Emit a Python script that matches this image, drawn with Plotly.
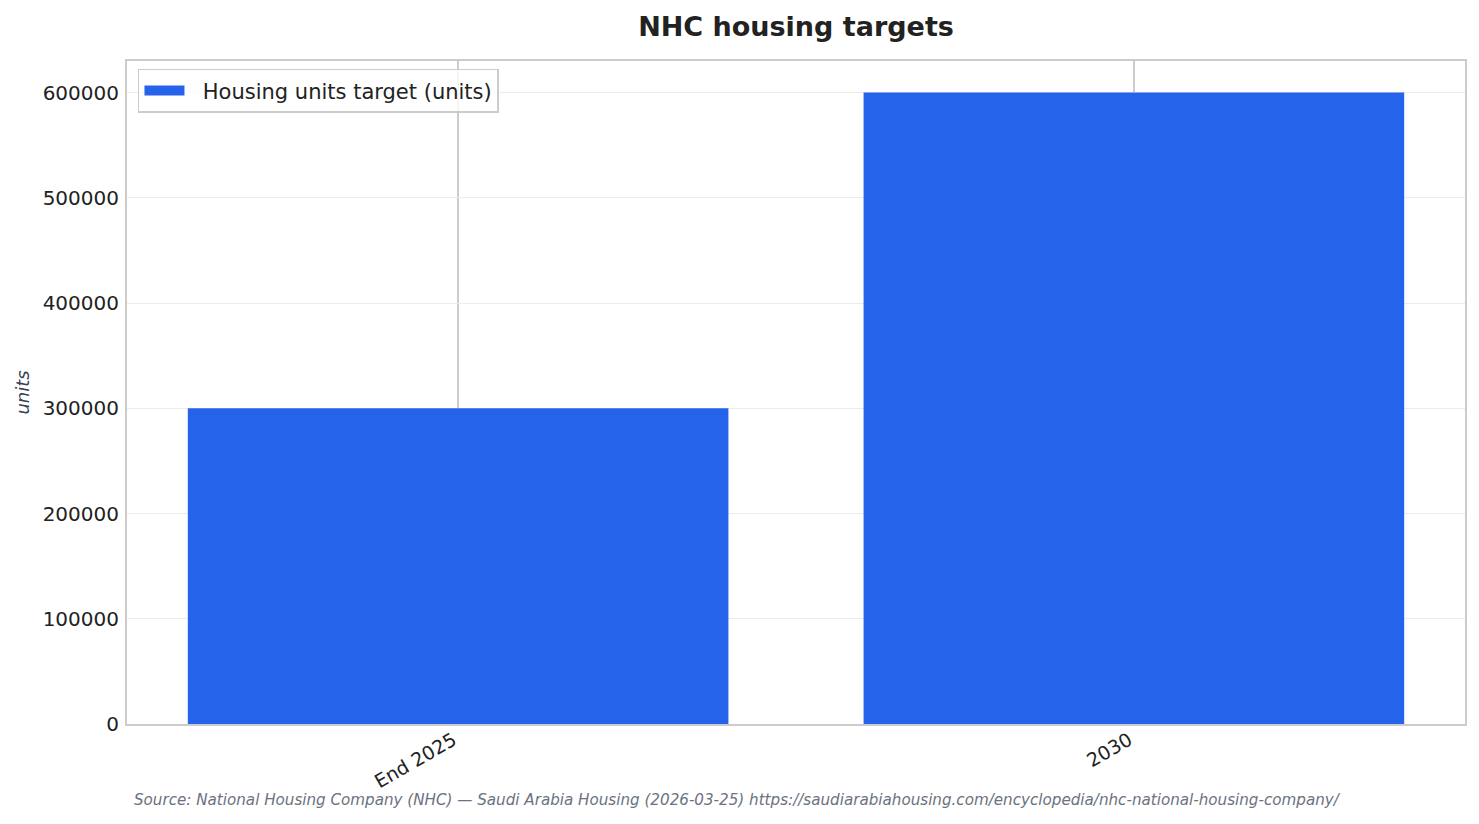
import plotly.graph_objects as go

categories = ["End 2025", "2030"]
housing_units = [300000, 600000]
y_ticks = [0, 100000, 200000, 300000, 400000, 500000, 600000]

series_name = "Housing units target (units)"
title_text = "NHC housing targets"
y_label = "units"
source_text = ("Source: National Housing Company (NHC) \u2014 Saudi Arabia Housing (2026-03-25) "
               "https://saudiarabiahousing.com/encyclopedia/nhc-national-housing-company/")

font_family = "DejaVu Sans"
bar_color = "#2563eb"

# page body has an 8px margin, so the figure is a bit smaller than the window
W, H = 1471, 816

fig = go.Figure()
fig.add_trace(go.Bar(
    x=list(range(len(categories))),
    y=housing_units,
    name=series_name,
    width=0.8,
    marker=dict(color=bar_color, line=dict(width=0)),
    showlegend=False,
))
# legend proxy: wide flat swatch like the reference
fig.add_trace(go.Scatter(
    x=[None], y=[None],
    mode="lines",
    name="\u00a0\u00a0" + series_name,
    line=dict(color=bar_color, width=13),
    showlegend=True,
    hoverinfo="skip",
))

fig.update_layout(
    width=W,
    height=H,
    paper_bgcolor="white",
    plot_bgcolor="white",
    margin=dict(l=119, r=14, t=53, b=100),
    font=dict(family=font_family, color="#222222", size=20),
    title=dict(text="<b>" + title_text + "</b>", x=0.5, xref="paper", xanchor="center",
               y=1 - 19 / H, yref="container", yanchor="middle",
               font=dict(size=27, color="#222222")),
    showlegend=True,
    legend=dict(x=0.0082, y=0.988, xanchor="left", yanchor="top",
                bgcolor="rgba(255,255,255,0.8)", bordercolor="#cccccc", borderwidth=1.5,
                font=dict(size=21, color="#222222"), itemwidth=40),
)

fig.update_xaxes(
    range=[-0.49, 1.49],
    tickmode="array",
    tickvals=list(range(len(categories))),
    ticktext=categories,
    tickangle=-30,
    showgrid=True,
    gridcolor="#cccccc",
    gridwidth=1.5,
    showline=True,
    linecolor="#cccccc",
    linewidth=2,
    mirror=True,
    ticks="",
    zeroline=False,
    tickfont=dict(size=19),
    ticklabelshift=-5,
    ticklabelstandoff=-4,
)

fig.update_yaxes(
    range=[0, 630000],
    tickmode="array",
    tickvals=y_ticks,
    tickformat="d",
    showgrid=True,
    gridcolor="#ebebeb",
    gridwidth=1,
    showline=True,
    linecolor="#cccccc",
    linewidth=2,
    mirror=True,
    ticks="",
    zeroline=False,
    tickfont=dict(size=20),
    ticklabelstandoff=2,
    title=dict(text="<i>" + y_label + "</i>", font=dict(size=18, color="#374151"), standoff=8),
)

fig.add_annotation(
    text="<i>" + source_text + "</i>",
    xref="paper", yref="paper",
    x=0.0037, y=-0.1146,
    xanchor="left", yanchor="middle",
    showarrow=False,
    font=dict(size=15.15, color="#6b7280"),
)

fig.write_html("out.html")
